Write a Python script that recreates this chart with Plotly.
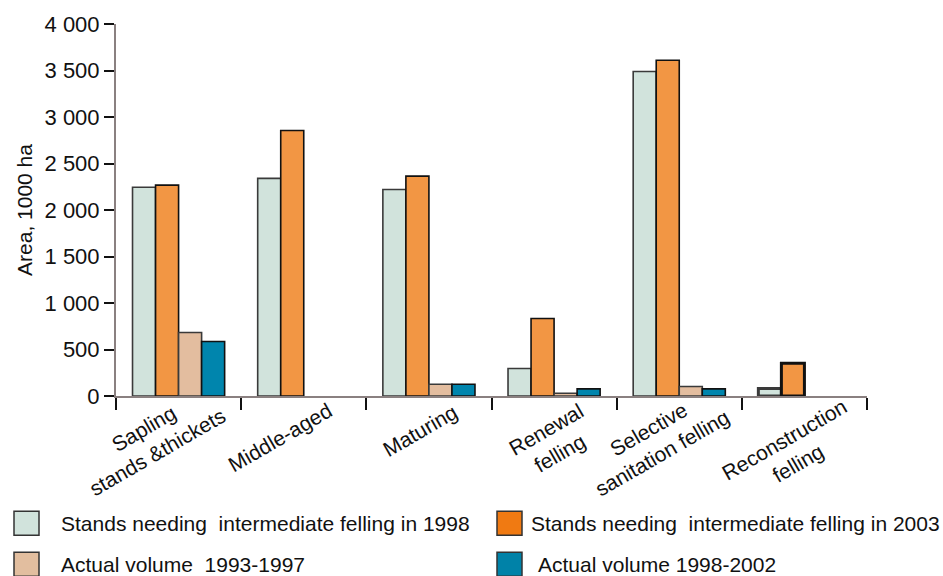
import plotly.graph_objects as go

categories = ["Sapling<br>stands &thickets", "Middle-aged", "Maturing",
              "Renewal<br>felling", "Selective<br>sanitation felling",
              "Reconstruction<br>felling"]
need_1998 = [2245, 2340, 2220, 296, 3490, 80]
need_2003 = [2267, 2855, 2364, 833, 3611, 353]
actual_1993_1997 = [683, None, 127, 30, 102, None]
actual_1998_2002 = [586, None, 127, 77, 77, None]
series_names = ["Stands needing  intermediate felling in 1998",
                "Stands needing  intermediate felling in 2003",
                "Actual volume  1993-1997",
                "Actual volume 1998-2002"]
y_range = [0, 4000]
y_step = 500

colors = ["#D1E3DC", "#F29644", "#E3BD9F", "#0085AD"]
legend_colors = ["#D1E3DC", "#F07A12", "#E2BE9F", "#0082A8"]
line_colors = ["#3a3a3a", "#111111", "#3a3a3a", "#111111"]

W, H = 943, 576
L, R, T, B = 116, 76, 24, 179.5
pw, ph = W - L - R, H - T - B


def px(x):
    return (x - L) / pw


def py(y):
    return (H - B - y) / ph


font = "Liberation Sans, Arial, Helvetica, sans-serif"
fig = go.Figure()
series = [need_1998, need_2003, actual_1993_1997, actual_1998_2002]
for name, vals, c, lc in zip(series_names, series, colors, line_colors):
    widths = [3 if i == len(vals) - 1 else 1.6 for i in range(len(vals))]
    fig.add_trace(go.Bar(x=list(range(len(categories))), y=vals, name=name,
                         showlegend=False,
                         marker=dict(color=c, line=dict(color=lc, width=widths))))

# category labels (rotated, centred lines)
label_dx = [-28, -24, -9, -1, -24, -13]
label_dy = [-44, -41, -34, -45, -45, -55]
annotations = []
for i, (lab, dx, dy) in enumerate(zip(categories, label_dx, label_dy)):
    annotations.append(dict(x=i, y=0, xref="x", yref="paper", text=lab,
                            showarrow=False, textangle=-30, align="center",
                            xanchor="center", yanchor="middle",
                            xshift=dx, yshift=dy,
                            font=dict(family=font, size=21, color="#111")))

# legend (two columns)
legend_pos = [(14, 512), (497, 512), (14, 553), (497, 553)]
text_x = [59, 529, 59, 536]
shapes = []
for (x0, y0), tx, name, c in zip(legend_pos, text_x, series_names, legend_colors):
    shapes.append(dict(type="rect", xref="paper", yref="paper",
                       x0=px(x0), x1=px(x0 + 25), y0=py(y0), y1=py(y0 + 24),
                       fillcolor=c, line=dict(color="#333", width=1.5)))
    annotations.append(dict(x=px(tx), y=py(y0 + 12), xref="paper", yref="paper",
                            text=name, showarrow=False, xanchor="left",
                            yanchor="middle",
                            font=dict(family=font, size=21, color="#111")))

fig.update_layout(
    width=W, height=H,
    barmode="group", bargap=0.264, bargroupgap=0,
    plot_bgcolor="white", paper_bgcolor="white",
    margin=dict(l=L, r=R, t=T, b=B, autoexpand=False),
    separators=", ",
    font=dict(family=font, size=20, color="#111"),
    showlegend=False,
    shapes=shapes, annotations=annotations,
    xaxis=dict(range=[-0.5, len(categories) - 0.5], showline=True,
               linecolor="#8a8080", linewidth=2,
               tickmode="array", tickvals=[i + 0.5 for i in range(-1, len(categories))],
               ticktext=[""] * (len(categories) + 1),
               ticks="outside", ticklen=12, tickwidth=2, tickcolor="#111",
               showgrid=False, zeroline=False, automargin=False),
    yaxis=dict(range=y_range, dtick=y_step, tickformat=",",
               showline=True, linecolor="#8a8080", linewidth=2,
               ticks="outside", ticklen=10, tickwidth=2, tickcolor="#111",
               showgrid=False, zeroline=False, tickfont=dict(size=22),
               automargin=False,
               title=dict(text="Area, 1000 ha", font=dict(size=21), standoff=6)),
)
fig.write_html("out.html", config={"displayModeBar": False},
               post_script="document.body.style.margin='0';document.body.style.overflow='hidden';")
